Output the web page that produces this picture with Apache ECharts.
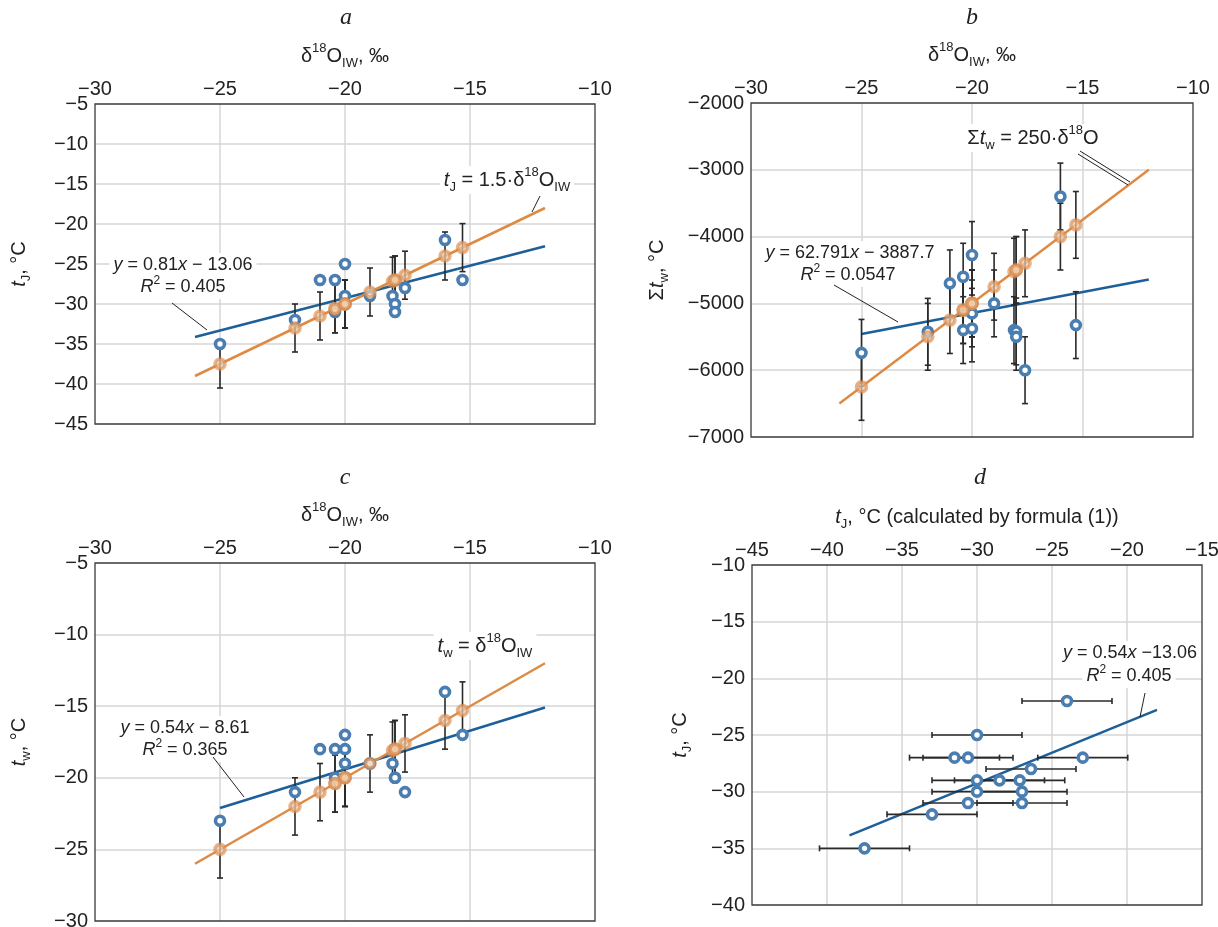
<!DOCTYPE html>
<html>
<head>
<meta charset="utf-8">
<title>δ18O panels</title>
<script src="https://cdn.jsdelivr.net/npm/echarts@6/dist/echarts.min.js"></script>
<style>
  html, body { margin: 0; padding: 0; background: #fff; }
  #main { width: 1218px; height: 927px; }
</style>
</head>
<body>
<div id="main"></div>
<script>
// measured δ18O of ice wedges, ‰
const d18O = [-25, -22, -21, -20.4, -20, -20, -20.4, -20, -19, -18.1, -18, -18, -17.6, -16, -15.3];
// panel a: January temperature, measured and from tJ = 1.5·δ18O
const tJ = [-35, -32, -27, -27, -25, -29, -31, -30, -29, -29, -30, -31, -28, -22, -27];
const tJcalc = [-37.5, -33, -31.5, -30.6, -30, -30, -30.6, -30, -28.5, -27.15, -27, -27, -26.4, -24, -22.95];
// panel b: sum of winter temperatures
const sumTw = [-5740, -5425, -4700, -4600, -4275, -5150, -5400, -5375, -5000, -5400, -5420, -5500, -6000, -3400, -5325];
const sumTwCalc = [-6250, -5500, -5250, -5100, -5000, -5000, -5100, -5000, -4750, -4525, -4500, -4500, -4400, -4000, -3825];
// panel c: mean winter temperature
const tw = [-23, -21, -18, -18, -17, -18, -20, -19, -19, -19, -20, -20, -21, -14, -17];
const twCalc = [-25, -22, -21, -20.4, -20, -20, -20.4, -20, -19, -18.1, -18, -18, -17.6, -16, -15.3];
// error half widths
const errA = 3, errB = 500, errC = 2, errD = 3;
// trend line end points
const trendAx = [-26, -12], trendAblue = [-34.12, -22.78], trendAorange = [-39, -18];
const trendBblueX = [-25, -12], trendBblue = [-5457, -4641];
const trendBorangeX = [-26, -12], trendBorange = [-6500, -3000];
const trendCblueX = [-25, -12], trendCblue = [-22.11, -15.09];
const trendCorangeX = [-26, -12], trendCorange = [-26, -12];
const trendDx = [-38.5, -18], trendDblue = [-33.85, -22.78];

const BLUE = '#1d5f98', BLUE_PT = '#4a7db0', ORANGE = '#df8a43';
const TXT = '#222';
const FONT = 'Liberation Sans, Arial, sans-serif';

const rich = {
  n: { fontSize: 20, fontFamily: FONT, color: TXT, lineHeight: 28 },
  i: { fontSize: 20, fontFamily: FONT, fontStyle: 'italic', color: TXT, lineHeight: 28 },
  sup: { fontSize: 13, fontFamily: FONT, color: TXT, verticalAlign: 'top', lineHeight: 16 },
  sub: { fontSize: 13, fontFamily: FONT, color: TXT, verticalAlign: 'bottom', lineHeight: 16 }
};
const richS = {
  n: { fontSize: 18, fontFamily: FONT, color: TXT, lineHeight: 24 },
  i: { fontSize: 18, fontFamily: FONT, fontStyle: 'italic', color: TXT, lineHeight: 24 },
  sup: { fontSize: 12, fontFamily: FONT, color: TXT, verticalAlign: 'top', lineHeight: 14 },
  sub: { fontSize: 12, fontFamily: FONT, color: TXT, verticalAlign: 'bottom', lineHeight: 14 }
};

const minus = v => String(v).replace('-', '\u2212');

function pairs(xs, ys) { return xs.map((x, i) => [x, ys[i]]); }

const split = { showMinLine: false, showMaxLine: false, lineStyle: { color: '#d6d6d6', width: 1.5 } };

function xAxis(idx, min, max, name) {
  return {
    gridIndex: idx, type: 'value', position: 'top', min: min, max: max, interval: 5,
    name: name, nameLocation: 'middle', nameGap: 34,
    nameTextStyle: { rich: rich },
    axisLine: { show: false }, axisTick: { show: false },
    axisLabel: { formatter: minus, fontSize: 20, fontFamily: FONT, color: TXT, margin: 5 },
    splitLine: split
  };
}
function yAxis(idx, min, max, interval, name, gap) {
  return {
    gridIndex: idx, type: 'value', min: min, max: max, interval: interval,
    name: name, nameLocation: 'middle', nameGap: gap, nameRotate: 90,
    nameTextStyle: { rich: rich },
    axisLine: { show: false }, axisTick: { show: false },
    axisLabel: { formatter: minus, fontSize: 20, fontFamily: FONT, color: TXT, margin: 7 },
    splitLine: split
  };
}

const barStyle = { stroke: '#2a2a2a', lineWidth: 1.6 };
function vBar(params, api) {
  const x = api.value(0);
  const a = api.coord([x, api.value(1)]);
  const b = api.coord([x, api.value(2)]);
  const c = 3;
  return { type: 'group', children: [
    { type: 'line', shape: { x1: a[0], y1: a[1], x2: b[0], y2: b[1] }, style: barStyle },
    { type: 'line', shape: { x1: a[0] - c, y1: a[1], x2: a[0] + c, y2: a[1] }, style: barStyle },
    { type: 'line', shape: { x1: b[0] - c, y1: b[1], x2: b[0] + c, y2: b[1] }, style: barStyle }
  ]};
}
function hBar(params, api) {
  const y = api.value(2);
  const a = api.coord([api.value(0), y]);
  const b = api.coord([api.value(1), y]);
  const c = 3;
  return { type: 'group', children: [
    { type: 'line', shape: { x1: a[0], y1: a[1], x2: b[0], y2: b[1] }, style: barStyle },
    { type: 'line', shape: { x1: a[0], y1: a[1] - c, x2: a[0], y2: a[1] + c }, style: barStyle },
    { type: 'line', shape: { x1: b[0], y1: b[1] - c, x2: b[0], y2: b[1] + c }, style: barStyle }
  ]};
}
function vErr(idx, xs, ys, e) {
  return { type: 'custom', xAxisIndex: idx, yAxisIndex: idx, z: 3, silent: true,
    renderItem: vBar, encode: { x: 0, y: [1, 2] },
    data: xs.map((x, i) => [x, ys[i] - e, ys[i] + e]) };
}
function blueDots(idx, data) {
  return { type: 'scatter', xAxisIndex: idx, yAxisIndex: idx, z: 4, data: data,
    symbol: 'circle', symbolSize: 9,
    itemStyle: { color: '#fff', borderColor: BLUE_PT, borderWidth: 3.6, opacity: 1 } };
}
function orangeDots(idx, data) {
  return { type: 'scatter', xAxisIndex: idx, yAxisIndex: idx, z: 5, data: data,
    symbol: 'circle', symbolSize: 10,
    itemStyle: { color: 'rgba(240,205,170,0.9)', borderColor: 'rgba(218,140,80,0.8)', borderWidth: 3.6 } };
}
function trend(idx, data, color) {
  return { type: 'line', xAxisIndex: idx, yAxisIndex: idx, z: 2, data: data,
    showSymbol: false, symbol: 'none', lineStyle: { color: color, width: 2.5 }, silent: true };
}

function label(x, y, text, style, bg) {
  return { type: 'text', x: x, y: y, z: 20, style: {
    text: text, rich: style, fill: TXT, font: '18px ' + FONT,
    align: 'center', verticalAlign: 'middle', textAlign: 'center', textVerticalAlign: 'middle',
    backgroundColor: bg ? '#fff' : 'transparent', padding: [0, 4] } };
}
function leader(x1, y1, x2, y2) {
  return { type: 'line', z: 20, shape: { x1: x1, y1: y1, x2: x2, y2: y2 }, style: { stroke: '#222', lineWidth: 1 } };
}
function panelTitle(x, y, t) {
  return { type: 'text', x: x, y: y, z: 20, style: { text: t, fill: TXT,
    font: 'italic 24px Liberation Serif, Times New Roman, serif',
    align: 'center', verticalAlign: 'middle', textAlign: 'center', textVerticalAlign: 'middle' } };
}

const dName = '{n|\u03b4}{sup|18}{n|O}{sub|IW}{n|, \u2030}';

const option = {
  animation: false,
  backgroundColor: '#fff',
  grid: [
    { left: 95, top: 104, width: 500, height: 320 },
    { left: 751, top: 103, width: 442, height: 334 },
    { left: 95, top: 563, width: 500, height: 358 },
    { left: 752, top: 565, width: 450, height: 340 }
  ].map(g => Object.assign(g, { show: true, borderColor: '#3a3a3a', borderWidth: 1.3, backgroundColor: 'transparent', outerBoundsMode: 'none', z: 10 })),
  xAxis: [
    xAxis(0, -30, -10, dName),
    xAxis(1, -30, -10, dName),
    xAxis(2, -30, -10, dName),
    xAxis(3, -45, -15, '{i|t}{sub|J}{n|, \u00b0C (calculated by formula (1))}')
  ],
  yAxis: [
    yAxis(0, -45, -5, 5, '{i|t}{sub|J}{n|, \u00b0C}', 62),
    yAxis(1, -7000, -2000, 1000, '{n|\u03a3}{i|t}{sub|w}{n|, \u00b0C}', 80),
    yAxis(2, -30, -5, 5, '{i|t}{sub|w}{n|, \u00b0C}', 62),
    yAxis(3, -40, -10, 5, '{i|t}{sub|J}{n|, \u00b0C}', 58)
  ],
  series: [
    // a
    trend(0, pairs(trendAx, trendAblue), BLUE),
    trend(0, pairs(trendAx, trendAorange), ORANGE),
    vErr(0, d18O, tJcalc, errA),
    blueDots(0, pairs(d18O, tJ)),
    orangeDots(0, pairs(d18O, tJcalc)),
    // b
    trend(1, pairs(trendBblueX, trendBblue), BLUE),
    trend(1, pairs(trendBorangeX, trendBorange), ORANGE),
    vErr(1, d18O, sumTw, errB),
    vErr(1, d18O, sumTwCalc, errB),
    blueDots(1, pairs(d18O, sumTw)),
    orangeDots(1, pairs(d18O, sumTwCalc)),
    // c
    trend(2, pairs(trendCblueX, trendCblue), BLUE),
    trend(2, pairs(trendCorangeX, trendCorange), ORANGE),
    vErr(2, d18O, twCalc, errC),
    blueDots(2, pairs(d18O, tw)),
    orangeDots(2, pairs(d18O, twCalc)),
    // d
    trend(3, pairs(trendDx, trendDblue), BLUE),
    { type: 'custom', xAxisIndex: 3, yAxisIndex: 3, z: 3, silent: true,
      renderItem: hBar, encode: { x: [0, 1], y: 2 },
      data: tJcalc.map((x, i) => [x - errD, x + errD, tJ[i]]) },
    blueDots(3, pairs(tJcalc, tJ))
  ],
  graphic: [
    panelTitle(346, 18, 'a'), panelTitle(972, 18, 'b'),
    panelTitle(345, 478, 'c'), panelTitle(980, 478, 'd'),
    // a
    label(183, 265, '{i|y}{n| = 0.81}{i|x}{n| \u2212 13.06}', richS, true),
    label(183, 287, '{i|R}{sup|2}{n| = 0.405}', richS, true),
    leader(172, 303, 207, 330),
    label(507, 180, '{i|t}{sub|J}{n| = 1.5\u00b7\u03b4}{sup|18}{n|O}{sub|IW}', rich, true),
    leader(540, 196, 532, 212),
    // b
    label(1033, 138, '{n|\u03a3}{i|t}{sub|w}{n| = 250\u00b7\u03b4}{sup|18}{n|O}', rich, true),
    leader(1080, 151, 1130, 182), leader(1078, 154, 1128, 185),
    label(850, 253, '{i|y}{n| = 62.791}{i|x}{n| \u2212 3887.7}', richS, true),
    label(848, 275, '{i|R}{sup|2}{n| = 0.0547}', richS, true),
    leader(834, 285, 898, 322),
    // c
    label(485, 646, '{i|t}{sub|w}{n| = \u03b4}{sup|18}{n|O}{sub|IW}', rich, true),
    label(185, 728, '{i|y}{n| = 0.54}{i|x}{n| \u2212 8.61}', richS, true),
    label(185, 750, '{i|R}{sup|2}{n| = 0.365}', richS, true),
    leader(213, 757, 244, 797),
    // d
    label(1130, 653, '{i|y}{n| = 0.54}{i|x}{n| \u221213.06}', richS, true),
    label(1129, 676, '{i|R}{sup|2}{n| = 0.405}', richS, true),
    leader(1145, 693, 1140, 717)
  ]
};

addEventListener('load', () => {
  const chart = echarts.init(document.getElementById('main'));
  chart.setOption(option);
});
</script>
</body>
</html>
